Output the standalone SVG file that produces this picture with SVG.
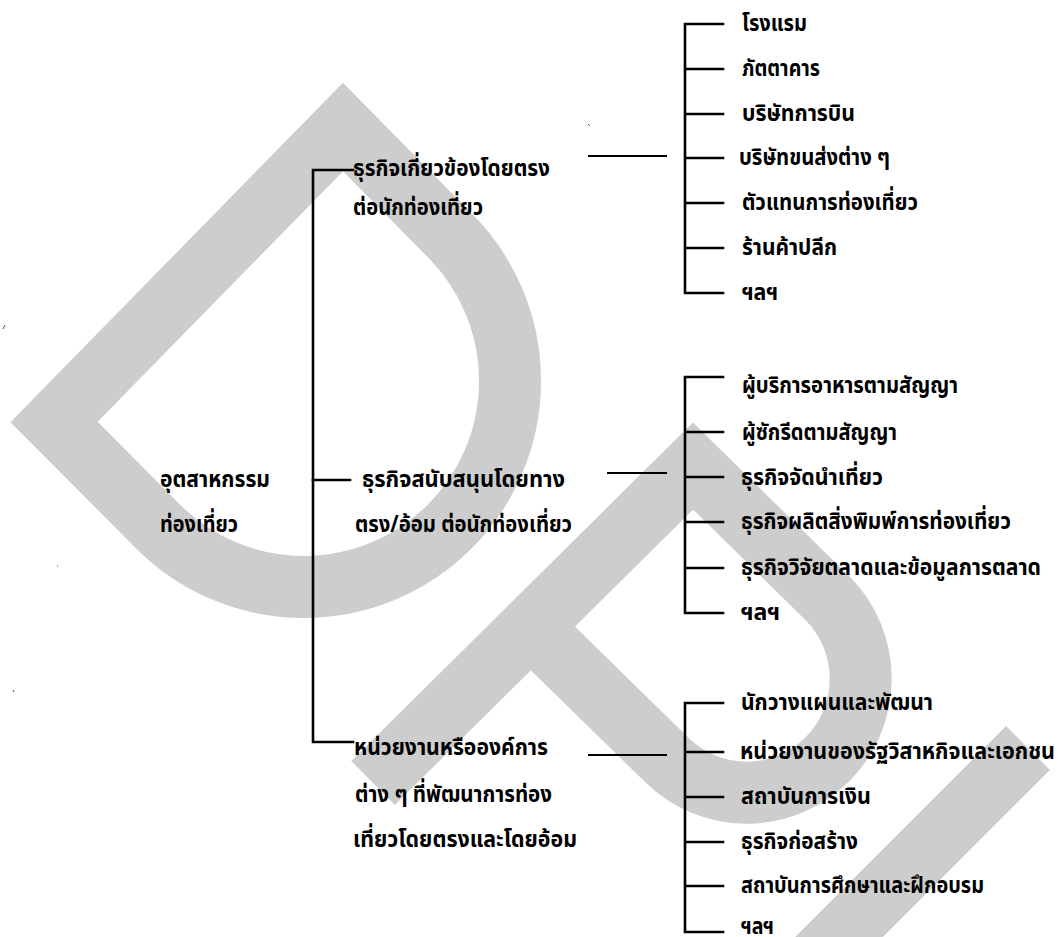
<svg xmlns="http://www.w3.org/2000/svg" width="1060" height="937" viewBox="0 0 1060 937">
<style>
.wm{fill:none;stroke:#cdcdcd;stroke-width:62;stroke-linejoin:miter;stroke-miterlimit:4;stroke-linecap:butt}
.t{font-family:"Noto Sans Thai","Noto Sans","DejaVu Sans",sans-serif;font-weight:bold;font-size:23px;fill:#000}
.ln{stroke:#000;stroke-width:2.6;fill:none;stroke-linecap:square}
.cn{stroke:#000;stroke-width:2;fill:none}
.dust{stroke:#555;stroke-width:1;fill:none}
</style>
<rect width="1060" height="937" fill="#fff"/>
<g id="watermark">
<path class="wm" d="M54,422 L343,127 L449.7,235.3 A206 206 0 0 1 158.3,526.7 Z"/>
<path class="wm" d="M373,783 L693,466 L828.6,599.4 A114 114 0 0 1 667.4,760.6 L530,626"/>
<path class="wm" d="M1028,748 L760,1016"/>
</g>
<g id="dust">
<path class="dust" d="M3,329 l2,-4 M588,124 l2,2 M57,566 l1,0 M13,690 l1,2"/>
</g>
<g id="connectors">
<path class="ln" d="M353,170 H313 V742 H353"/>
<path class="ln" d="M313,480 H350"/>
<path class="cn" d="M588,156 H667"/>
<path class="cn" d="M607,473 H667"/>
<path class="cn" d="M588,755 H667"/>
<path class="ln" d="M723,24 H685 V293 H723 M685,69 H723 M685,114 H723 M685,158 H723 M685,203 H723 M685,248 H723"/>
<path class="ln" d="M723,377 H685 V613 H723 M685,432 H723 M685,477 H723 M685,522 H723 M685,568 H723"/>
<path class="ln" d="M723,703 H685 V932 H723 M685,752 H723 M685,797 H723 M685,842 H723 M685,886 H723"/>
</g>
<g id="root">
<text class="t" x="160" y="487" textLength="110" lengthAdjust="spacingAndGlyphs">อุตสาหกรรม</text>
<text class="t" x="160" y="532" textLength="78" lengthAdjust="spacingAndGlyphs">ท่องเที่ยว</text>
</g>
<g id="branch-direct">
<text class="t" x="353" y="176" textLength="197" lengthAdjust="spacingAndGlyphs">ธุรกิจเกี่ยวข้องโดยตรง</text>
<text class="t" x="353" y="215" textLength="130" lengthAdjust="spacingAndGlyphs">ต่อนักท่องเที่ยว</text>
</g>
<g id="branch-support">
<text class="t" x="362" y="487" textLength="203" lengthAdjust="spacingAndGlyphs">ธุรกิจสนับสนุนโดยทาง</text>
<text class="t" x="355" y="532" textLength="217" lengthAdjust="spacingAndGlyphs">ตรง/อ้อม ต่อนักท่องเที่ยว</text>
</g>
<g id="branch-org">
<text class="t" x="354" y="755" textLength="194" lengthAdjust="spacingAndGlyphs">หน่วยงานหรือองค์การ</text>
<text class="t" x="355" y="802" textLength="197" lengthAdjust="spacingAndGlyphs">ต่าง ๆ ที่พัฒนาการท่อง</text>
<text class="t" x="353" y="847" textLength="224" lengthAdjust="spacingAndGlyphs">เที่ยวโดยตรงและโดยอ้อม</text>
</g>
<g id="list-direct">
<text class="t" x="742" y="31" textLength="65" lengthAdjust="spacingAndGlyphs">โรงแรม</text>
<text class="t" x="742" y="76" textLength="78" lengthAdjust="spacingAndGlyphs">ภัตตาคาร</text>
<text class="t" x="742" y="121" textLength="113" lengthAdjust="spacingAndGlyphs">บริษัทการบิน</text>
<text class="t" x="739" y="165" textLength="151" lengthAdjust="spacingAndGlyphs">บริษัทขนส่งต่าง ๆ</text>
<text class="t" x="742" y="210" textLength="176" lengthAdjust="spacingAndGlyphs">ตัวแทนการท่องเที่ยว</text>
<text class="t" x="742" y="255" textLength="95" lengthAdjust="spacingAndGlyphs">ร้านค้าปลีก</text>
<text class="t" x="742" y="300" textLength="36" lengthAdjust="spacingAndGlyphs">ฯลฯ</text>
</g>
<g id="list-support">
<text class="t" x="742" y="393" textLength="216" lengthAdjust="spacingAndGlyphs">ผู้บริการอาหารตามสัญญา</text>
<text class="t" x="742" y="440" textLength="155" lengthAdjust="spacingAndGlyphs">ผู้ซักรีดตามสัญญา</text>
<text class="t" x="741" y="485" textLength="142" lengthAdjust="spacingAndGlyphs">ธุรกิจจัดนำเที่ยว</text>
<text class="t" x="741" y="529" textLength="270" lengthAdjust="spacingAndGlyphs">ธุรกิจผลิตสิ่งพิมพ์การท่องเที่ยว</text>
<text class="t" x="741" y="575" textLength="300" lengthAdjust="spacingAndGlyphs">ธุรกิจวิจัยตลาดและข้อมูลการตลาด</text>
<text class="t" x="741" y="620" textLength="39" lengthAdjust="spacingAndGlyphs">ฯลฯ</text>
</g>
<g id="list-org">
<text class="t" x="741" y="710" textLength="192" lengthAdjust="spacingAndGlyphs">นักวางแผนและพัฒนา</text>
<text class="t" x="740" y="759" textLength="315" lengthAdjust="spacingAndGlyphs">หน่วยงานของรัฐวิสาหกิจและเอกชน</text>
<text class="t" x="741" y="804" textLength="130" lengthAdjust="spacingAndGlyphs">สถาบันการเงิน</text>
<text class="t" x="741" y="849" textLength="117" lengthAdjust="spacingAndGlyphs">ธุรกิจก่อสร้าง</text>
<text class="t" x="741" y="893" textLength="243" lengthAdjust="spacingAndGlyphs">สถาบันการศึกษาและฝึกอบรม</text>
<text class="t" x="741" y="934" textLength="33" lengthAdjust="spacingAndGlyphs">ฯลฯ</text>
</g>
</svg>
